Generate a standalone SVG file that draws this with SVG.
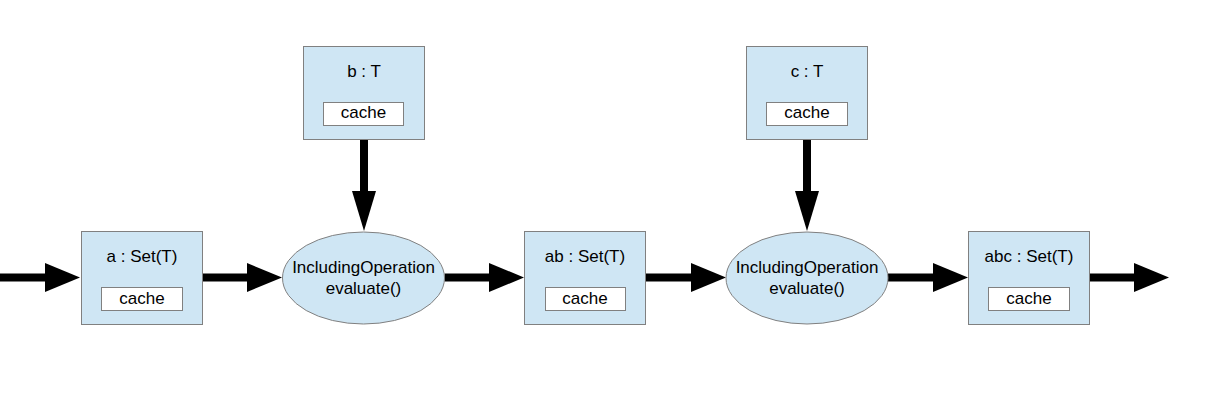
<svg xmlns="http://www.w3.org/2000/svg" width="1210" height="416" viewBox="0 0 1210 416">
<style>
.box{fill:#cfe6f4;stroke:#808080;stroke-width:1}
.cache{fill:#ffffff;stroke:#808080;stroke-width:1}
.op{fill:#cfe6f4;stroke:#808080;stroke-width:1}
text{font-family:"Liberation Sans",Arial,sans-serif;font-size:17px;fill:#000;text-anchor:middle}
.edge{stroke:#000;stroke-width:8;fill:none}
.h{marker-end:url(#ah)}
.v{marker-end:url(#av)}
</style>
<defs>
<marker id="ah" markerUnits="userSpaceOnUse" orient="auto" markerWidth="35" markerHeight="29" refX="15" refY="14.5" overflow="visible">
<path d="M0,0 L35,14.5 L0,29 Z" fill="#000"/>
</marker>
<marker id="av" markerUnits="userSpaceOnUse" orient="auto" markerWidth="40" markerHeight="24" refX="20" refY="12" overflow="visible">
<path d="M0,0 L40,12 L0,24 Z" fill="#000"/>
</marker>
</defs>
<rect width="1210" height="416" fill="#fff"/>
<g id="connectors">
<line class="edge h" x1="0" y1="277.5" x2="60" y2="277.5"/>
<line class="edge h" x1="202.5" y1="277.5" x2="262" y2="277.5"/>
<line class="edge h" x1="444.5" y1="277.5" x2="504" y2="277.5"/>
<line class="edge h" x1="645.5" y1="277.5" x2="706" y2="277.5"/>
<line class="edge h" x1="888" y1="277.5" x2="948" y2="277.5"/>
<line class="edge h" x1="1089.5" y1="277.5" x2="1149" y2="277.5"/>
<line class="edge v" x1="364" y1="139.5" x2="364" y2="211"/>
<line class="edge v" x1="807" y1="139.5" x2="807" y2="211"/>
</g>
<g id="a">
<rect class="box" x="81.5" y="231.5" width="121" height="93"/>
<text x="142" y="262">a : Set(T)</text>
<rect class="cache" x="101.5" y="287.5" width="81" height="23"/>
<text x="142" y="304">cache</text>
</g>
<g id="b">
<rect class="box" x="303.5" y="46.5" width="121" height="93"/>
<text x="364" y="77">b : T</text>
<rect class="cache" x="323.5" y="102.5" width="80" height="23"/>
<text x="363.5" y="118">cache</text>
</g>
<g id="op1">
<ellipse class="op" cx="363.5" cy="278" rx="81" ry="46"/>
<text x="363.5" y="273">IncludingOperation</text>
<text x="363.5" y="294">evaluate()</text>
</g>
<g id="ab">
<rect class="box" x="524.5" y="231.5" width="121" height="93"/>
<text x="585" y="262">ab : Set(T)</text>
<rect class="cache" x="545.5" y="287.5" width="80" height="23"/>
<text x="585" y="304">cache</text>
</g>
<g id="c">
<rect class="box" x="746.5" y="46.5" width="121" height="93"/>
<text x="807" y="77">c : T</text>
<rect class="cache" x="766.5" y="102.5" width="81" height="23"/>
<text x="807" y="118">cache</text>
</g>
<g id="op2">
<ellipse class="op" cx="807" cy="278" rx="81" ry="46"/>
<text x="807" y="273">IncludingOperation</text>
<text x="807" y="294">evaluate()</text>
</g>
<g id="abc">
<rect class="box" x="968.5" y="231.5" width="121" height="93"/>
<text x="1029" y="262">abc : Set(T)</text>
<rect class="cache" x="988.5" y="287.5" width="81" height="23"/>
<text x="1029" y="304">cache</text>
</g>
</svg>
